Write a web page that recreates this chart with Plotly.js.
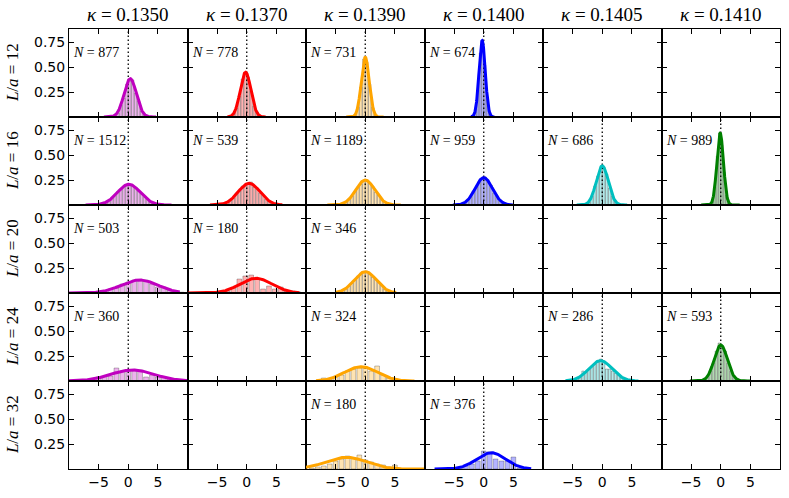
<!DOCTYPE html>
<html><head><meta charset="utf-8">
<script src="https://cdn.plot.ly/plotly-3.0.1.min.js"></script>
<style>html,body{margin:0;padding:0;background:#fff}#chart{width:789px;height:498px}</style>
</head><body><div id="chart"></div>
<script>
// ---- data ----
const kappaLabels = ['0.1350', '0.1370', '0.1390', '0.1400', '0.1405', '0.1410'];
const sizeLabels = ['12', '16', '20', '24', '32'];
const xTickVals = [-5, 0, 5];
const xTickText = ['\u22125', '0', '5'];
const yTickVals = [0.25, 0.5, 0.75];
const yTickText = ['0.25', '0.50', '0.75'];
const refX = 0;

const panelRow = [0, 0, 0, 0, 1, 1, 1, 1, 1, 1, 2, 2, 2, 3, 3, 3, 3, 4, 4];
const panelCol = [0, 1, 2, 3, 0, 1, 2, 3, 4, 5, 0, 1, 2, 0, 2, 4, 5, 2, 3];
const panelN = [877, 778, 731, 674, 1512, 539, 1189, 959, 686, 989, 503, 180, 346, 360, 324, 286, 593, 180, 376];
const fitMean = [0.33, -0.2, 0, -0.27, 0.1, 0.4, 0, 0, 0, -0.1, 1.9, 1.55, 0, 0.7, -0.7, -0.3, 0, -3.2, 1.25];
const fitSigma = [1.04, 0.89, 0.668, 0.523, 1.93, 1.84, 1.6, 1.46, 1.02, 0.556, 3.07, 2.71, 1.87, 3.63, 2.79, 1.96, 1.11, 3.4, 2.45];
const curveFrom = [-4.1, -3.25, -3.2, -2.1, -7.2, -6.2, -6.4, -5.2, -4.3, -3.3, -10, -10, -5.05, -10, -8.3, -6.2, -5.2, -10, -8.3];
const curveTo = [4.7, 3.2, 3.1, 1.8, 7.3, 6.0, 6.0, 4.9, 4.2, 3.2, 8.7, 8.9, 5.2, 10, 8.3, 6.1, 5.0, 10, 8.0];
const binStart = [-2.75, -2.75, -2.25, -2.2, -6.75, -5.75, -5.75, -4.75, -3.75, -2.2, -7, -4.25, -4.75, -9, -8, -5.75, -4.25, -9, -4];
const binWidth = [0.5, 0.5, 0.5, 0.4, 0.5, 0.5, 0.5, 0.5, 0.5, 0.4, 1, 1, 0.5, 1, 1, 0.5, 0.5, 1, 1];

const hist12_1350 = [.005, .02, .04, .12, .19, .33, .36, .37, .24, .16, .06, .03, .01, .002];
const hist12_1370 = [.006, .03, .09, .21, .38, .42, .40, .26, .11, .05, .01, .004];
const hist12_1390 = [.002, .02, .10, .30, .58, .55, .33, .10, .02, .003];
const hist12_1400 = [.002, .01, .08, .27, .64, .74, .52, .2, .04, .006, .001];
const hist16_1350 = [.001, .001, .003, .004, .008, .017, .03, .044, .072, .095, .135, .158, .19, .2, .21, .19, .178, .14, .115, .078, .058, .033, .022, .01, .006, .003, .001, .001];
const hist16_1370 = [.001, .003, .004, .01, .02, .028, .055, .07, .12, .14, .19, .2, .22, .23, .18, .17, .12, .1, .06, .045, .02, .015, .005, .004, .001];
const hist16_1390 = [.0003, .001, .003, .008, .015, .03, .06, .09, .14, .18, .21, .24, .25, .22, .19, .13, .1, .055, .035, .015, .008, .002, .001, .0003];
const hist16_1400 = [.001, .004, .01, .025, .05, .08, .14, .18, .24, .26, .28, .23, .2, .12, .09, .04, .02, .01, .003, .001];
const hist16_1405 = [.0005, .002, .012, .03, .09, .19, .29, .37, .38, .31, .17, .09, .035, .01, .002, .0005];
const hist16_1410 = [.001, .008, .05, .18, .49, .72, .6, .33, .1, .02, .003, .0005];
const hist20_1350 = [.003, .004, .012, .02, .04, .05, .09, .11, .13, .12, .13, .09, .06, .06, .03, .02, .008];
const hist20_1370 = [.01, .02, .05, .14, .17, .18, .14, .04, .07, .04, .06, .02, .02, .01];
const hist20_1390 = [.006, .015, .025, .04, .07, .1, .13, .17, .2, .21, .22, .19, .16, .14, .11, .08, .04, .02, .01, .005];
const hist24_1350 = [.004, .005, .01, .02, .04, .045, .05, .13, .1, .11, .1, .11, .04, .06, .04, .035, .02, .012, .006];
const hist24_1390 = [.005, .03, .02, .05, .06, .1, .12, .13, .13, .1, .15, .06, .03, .02, .01, .003, .001];
const hist24_1405 = [.003, .006, .015, .03, .05, .1, .09, .12, .15, .17, .19, .22, .2, .12, .12, .1, .08, .06, .04, .02, .012, .006, .003, .001];
const hist24_1410 = [.0003, .001, .005, .015, .05, .1, .18, .3, .38, .33, .3, .18, .1, .05, .015, .005, .001, .0003];
const hist32_1390 = [.01, .02, .03, .05, .08, .1, .13, .11, .14, .09, .07, .05, .04, .02, .04, .005, .002];
const hist32_1400 = [.01, .03, .05, .08, .18, .17, .1, .08, .08, .12, .01];

const histHeights = [hist12_1350, hist12_1370, hist12_1390, hist12_1400,
  hist16_1350, hist16_1370, hist16_1390, hist16_1400, hist16_1405, hist16_1410,
  hist20_1350, hist20_1370, hist20_1390,
  hist24_1350, hist24_1390, hist24_1405, hist24_1410,
  hist32_1390, hist32_1400];

// ---- styles ----
const colLine = ['#bf00bf', '#ff0000', '#ffa500', '#0000ff', '#00bfbf', '#008000'];
const colFill = ['rgba(191,0,191,0.3)', 'rgba(255,0,0,0.3)', 'rgba(255,165,0,0.3)', 'rgba(0,0,255,0.3)', 'rgba(0,191,191,0.3)', 'rgba(0,128,0,0.3)'];
const NROWS = 5, NCOLS = 6;
const XR = [-10, 10], YR = [0, 0.88];
const SERIF = 'Liberation Serif, Times New Roman, serif';
const SANS = 'DejaVu Sans, sans-serif';

const layout = {
  width: 789, height: 498,
  margin: {l: 69, r: 9, t: 29, b: 29, pad: 0},
  paper_bgcolor: '#fff', plot_bgcolor: '#fff',
  showlegend: false, hovermode: false, barmode: 'overlay',
  annotations: []
};
function sfx(k) { return k === 1 ? '' : String(k); }

const traces = [];
for (let r = 0; r < NROWS; r++) {
  for (let c = 0; c < NCOLS; c++) {
    const k = r * NCOLS + c + 1;
    const common = {
      ticks: 'inside', ticklen: 5, tickwidth: 1, tickcolor: '#000',
      showline: true, linecolor: '#000', linewidth: 1, mirror: 'ticks',
      zeroline: false, showgrid: false, fixedrange: true,
      tickfont: {family: SANS, size: 14, color: '#000'}
    };
    layout['xaxis' + sfx(k)] = Object.assign({}, common, {
      domain: [c / NCOLS, (c + 1) / NCOLS], anchor: 'y' + sfx(k), range: XR,
      tickmode: 'array', tickvals: xTickVals, ticktext: xTickText, showticklabels: r === NROWS - 1
    });
    layout['yaxis' + sfx(k)] = Object.assign({}, common, {
      domain: [1 - (r + 1) / NROWS, 1 - r / NROWS], anchor: 'x' + sfx(k), range: YR,
      tickmode: 'array', tickvals: yTickVals, ticktext: yTickText, showticklabels: c === 0
    });
    // empty trace so that every subplot frame is drawn
    traces.push({type: 'scatter', mode: 'lines', x: [null], y: [null], xaxis: 'x' + sfx(k), yaxis: 'y' + sfx(k)});
  }
}

kappaLabels.forEach((kl, c) => {
  layout.annotations.push({
    xref: 'paper', yref: 'paper', x: (c + 0.5) / NCOLS, y: 1, xanchor: 'center', yanchor: 'bottom', yshift: 2,
    text: '<i>\u03ba</i> = ' + kl, showarrow: false, font: {family: SERIF, size: 19, color: '#000'}
  });
});
sizeLabels.forEach((sl, r) => {
  layout.annotations.push({
    xref: 'paper', yref: 'paper', x: -0.080, y: 1 - (r + 0.5) / NROWS, xanchor: 'center', yanchor: 'middle',
    textangle: -90, text: '<i>L</i>/<i>a</i> = ' + sl, showarrow: false, font: {family: SERIF, size: 17, color: '#000'}
  });
});

for (let p = 0; p < panelN.length; p++) {
  const r = panelRow[p], c = panelCol[p];
  const k = r * NCOLS + c + 1;
  const xa = 'x' + sfx(k), ya = 'y' + sfx(k);
  const hx = histHeights[p].map((_, i) => binStart[p] + i * binWidth[p]);
  traces.push({
    type: 'bar', x: hx, y: histHeights[p], xaxis: xa, yaxis: ya, width: binWidth[p] * 0.8,
    marker: {color: colFill[c], line: {color: 'rgba(0,0,0,0.3)', width: 0.8}}
  });
  traces.push({
    type: 'scatter', mode: 'lines', x: [refX, refX], y: YR, xaxis: xa, yaxis: ya,
    line: {color: '#000', width: 1.3, dash: '1.5px,2.5px'}
  });
  const cx = [], cy = [];
  const n = 240;
  for (let i = 0; i <= n; i++) {
    const x = curveFrom[p] + (curveTo[p] - curveFrom[p]) * i / n;
    const z = (x - fitMean[p]) / fitSigma[p];
    cx.push(x);
    cy.push(Math.exp(-0.5 * z * z) / (fitSigma[p] * Math.sqrt(2 * Math.PI)));
  }
  traces.push({
    type: 'scatter', mode: 'lines', x: cx, y: cy, xaxis: xa, yaxis: ya,
    line: {color: colLine[c], width: 3}
  });
  layout.annotations.push({
    xref: xa, yref: ya, x: -9.6, y: 0.645, xanchor: 'left', yanchor: 'middle',
    text: '<i>N</i> = ' + panelN[p], showarrow: false, font: {family: SERIF, size: 14, color: '#000'}
  });
}

Plotly.newPlot('chart', traces, layout, {staticPlot: true, displayModeBar: false});
</script>
</body></html>
